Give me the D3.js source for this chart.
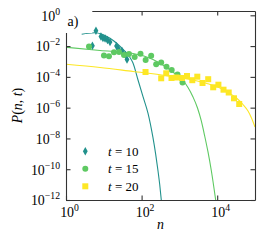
<!DOCTYPE html>
<html><head><meta charset="utf-8">
<script src="https://cdn.jsdelivr.net/npm/d3@7"></script>
<style>html,body{margin:0;padding:0;background:#fff;} svg{display:block;}</style>
</head><body>
<svg id="c" width="266" height="242"></svg>
<script>
// ---------- data ----------
const seriesT = ["10", "15", "20"];
const seriesColors = ["#21918c", "#5ec962", "#fde725"];

// measured points
const n10 = [5, 6.2, 8.4, 9.5, 10.8, 12.5, 14.6, 21.7, 24.5, 30.3, 37.5, 41.1];
const p10 = [0.0106, 0.100, 0.042, 0.0336, 0.0312, 0.0249, 0.0184, 0.0101, 0.00649, 0.00481, 0.00264, 0.00135];

const n15 = [4.06, 10.1, 13.7, 18.6, 25.3, 34.2, 46.4, 65.6, 93.5, 128, 179, 243, 330, 456, 626, 891, 1208];
const p15 = [0.00942, 0.00245, 0.00217, 0.00395, 0.00414, 0.00264, 0.00307, 0.00196, 0.00321, 0.00125, 0.00234, 0.000667, 0.000859, 0.000458, 0.00028, 0.000143, 4.32e-5];

const n20 = [127, 330, 448, 618, 838, 1172, 1589, 2195, 2976, 4087, 5781, 7839, 10760, 14690, 20150, 27800, 38200];
const p20 = [2.07e-4, 8.09e-5, 1.71e-4, 8.45e-5, 9.12e-5, 8.45e-5, 1.14e-4, 6.08e-5, 1.03e-4, 4.0e-5, 7.06e-5, 2.1e-5, 3.1e-5, 1.47e-5, 9.66e-6, 4.06e-6, 1.73e-6];

// fitted curves
const fitN10 = [2.6, 3.82, 5.85, 8.96, 14.6, 23.8, 36.4, 49.3, 59.2, 80.4, 109, 148, 200, 236, 272, 301, 332];
const fitP10 = [0.0585, 0.0679, 0.0731, 0.0585, 0.0321, 0.0127, 0.00446, 0.00182, 7.98e-4, 6.27e-5, 5.15e-6, 4.3e-7, 1.12e-8, 9.31e-10, 7.65e-11, 1.05e-11, 1e-12];

const fitN15 = [1, 7.93, 59.2, 200, 442, 813, 1245, 1690, 2291, 3013, 3797, 4667, 5710, 6982, 9120];
const fitP15 = [0.00836, 0.00518, 0.0033, 0.00135, 4.38e-4, 1.43e-4, 5.82e-5, 2.04e-5, 4.93e-6, 9.5e-7, 1.36e-7, 1.44e-8, 1.32e-9, 8.26e-11, 1e-12];

const fitN20 = [1, 7.93, 59.2, 442, 1907, 5372, 11858, 21810, 33420, 48170, 65350, 80790, 100000];
const fitP20 = [6.56e-4, 4.07e-4, 2.24e-4, 1.23e-4, 6.76e-5, 3.72e-5, 1.89e-5, 8.32e-6, 3.94e-6, 1.6e-6, 6.07e-7, 2.13e-7, 5.53e-8];

const xTicks = [1, 1e2, 1e4];
const xTickExp = ["0", "2", "4"];
const yTicks = [1, 1e-2, 1e-4, 1e-6, 1e-8, 1e-10, 1e-12];
const yTickExp = ["0", "\u22122", "\u22124", "\u22126", "\u22128", "\u221210", "\u221212"];

// ---------- layout ----------
const L = 66, R = 255, T = 11, B = 200;
const FONT = "'Liberation Serif', 'DejaVu Serif', serif";
const svg = d3.select("#c");
const x = d3.scaleLog().domain([1, 1e5]).range([L, R]);
const y = d3.scaleLog().domain([1e-12, Math.pow(10, 0.28)]).range([B, T]);

svg.append("defs").append("clipPath").attr("id", "clip")
  .append("rect").attr("x", L).attr("y", T).attr("width", R - L).attr("height", B - T);

const data = [
  { pts: d3.zip(n10, p10), fit: d3.zip(fitN10, fitP10), shape: "diamond" },
  { pts: d3.zip(n15, p15), fit: d3.zip(fitN15, fitP15), shape: "circle" },
  { pts: d3.zip(n20, p20), fit: d3.zip(fitN20, fitP20), shape: "square" }
];

const plot = svg.append("g").attr("clip-path", "url(#clip)");
const line = d3.line().x(d => x(d[0])).y(d => y(d[1])).curve(d3.curveMonotoneX);

function marker(sel, shape, color) {
  if (shape === "diamond") {
    sel.append("path").attr("d", "M0,-4.2L2.4,0L0,4.2L-2.4,0Z").attr("fill", color);
  } else if (shape === "circle") {
    sel.append("circle").attr("r", 3).attr("fill", color);
  } else {
    sel.append("rect").attr("x", -3).attr("y", -3).attr("width", 6).attr("height", 6).attr("fill", color);
  }
}

data.forEach((s, i) => {
  plot.append("path").datum(s.fit).attr("d", line)
    .attr("fill", "none").attr("stroke", seriesColors[i]).attr("stroke-width", 1.1);
});
data.forEach((s, i) => {
  plot.selectAll(null).data(s.pts).enter().append("g")
    .attr("transform", d => `translate(${x(d[0])},${y(d[1])})`)
    .each(function () { marker(d3.select(this), s.shape, seriesColors[i]); });
});

// ---------- axes ----------
const axisColor = "#333";
function styleAxis(g) {
  g.select(".domain").attr("stroke", axisColor).attr("stroke-width", 1.1);
  g.selectAll(".tick line").attr("stroke", axisColor).attr("stroke-width", 1.1);
}
function pow10Label(g, exps, fs) {
  g.selectAll(".tick text").each(function (d, i) {
    const t = d3.select(this);
    t.text(null);
    t.append("tspan").text("10");
    t.append("tspan").attr("font-size", fs * 0.7).attr("dy", -6).text(exps[i]);
  });
}
const FS = 13.9;

const gl = svg.append("g").attr("transform", `translate(${L},0)`)
  .call(d3.axisLeft(y).tickValues(yTicks).tickSize(-4.5).tickSizeOuter(0).tickPadding(6).tickFormat(() => ""));
styleAxis(gl);
gl.selectAll(".tick text").attr("font-family", FONT).attr("font-size", FS).attr("fill", "#000")
  .attr("dy", null).attr("y", 4.8);
pow10Label(gl, yTickExp, FS);

const gr = svg.append("g").attr("transform", `translate(${R},0)`)
  .call(d3.axisRight(y).tickValues(yTicks).tickSize(-4.5).tickSizeOuter(0).tickFormat(() => ""));
styleAxis(gr);

const gt = svg.append("g").attr("transform", `translate(0,${T})`)
  .call(d3.axisTop(x).tickValues(xTicks).tickSize(-4.5).tickSizeOuter(0).tickFormat(() => ""));
styleAxis(gt);

const gb = svg.append("g").attr("transform", `translate(0,${B})`)
  .call(d3.axisBottom(x).tickValues(xTicks).tickSize(-4.5).tickSizeOuter(0).tickFormat(() => ""));
styleAxis(gb);
gb.selectAll(".tick text").attr("font-family", FONT).attr("font-size", FS).attr("fill", "#000")
  .attr("dy", null).attr("y", 16.5).attr("text-anchor", "middle");
pow10Label(gb, xTickExp, FS);
gb.selectAll(".tick text tspan:first-child").attr("dx", 3);

svg.selectAll(".tick text").attr("font-family", FONT);

// axis labels
svg.append("text").attr("x", (L + R) / 2).attr("y", 228.5).attr("text-anchor", "middle")
  .attr("font-family", FONT).attr("font-size", FS).attr("font-style", "italic").text("n");

const yl = svg.append("text").attr("transform", `translate(22,${(T + B) / 2}) rotate(-90)`)
  .attr("text-anchor", "middle").attr("font-family", FONT).attr("font-size", FS);
yl.append("tspan").attr("font-style", "italic").text("P");
yl.append("tspan").text("(");
yl.append("tspan").attr("font-style", "italic").text("n");
yl.append("tspan").text(", ");
yl.append("tspan").attr("font-style", "italic").text("t");
yl.append("tspan").text(")");

// legend
const LFS = 13;
seriesT.forEach((t, i) => {
  const ly = 151.3 + i * 17.5;
  const g = svg.append("g").attr("transform", `translate(85.3,${ly})`);
  marker(g, data[i].shape, seriesColors[i]);
  const tx = svg.append("text").attr("x", 108).attr("y", ly + 4.3)
    .attr("font-family", FONT).attr("font-size", LFS);
  tx.append("tspan").attr("font-style", "italic").text("t");
  tx.append("tspan").text(" = " + t);
});

// panel label with white box
svg.append("rect").attr("x", 64.5).attr("y", 9).attr("width", 27.8).attr("height", 24).attr("fill", "#fff");
svg.append("text").attr("x", 67.5).attr("y", 26).attr("font-family", FONT).attr("font-size", FS).text("a)");
</script>
</body></html>
